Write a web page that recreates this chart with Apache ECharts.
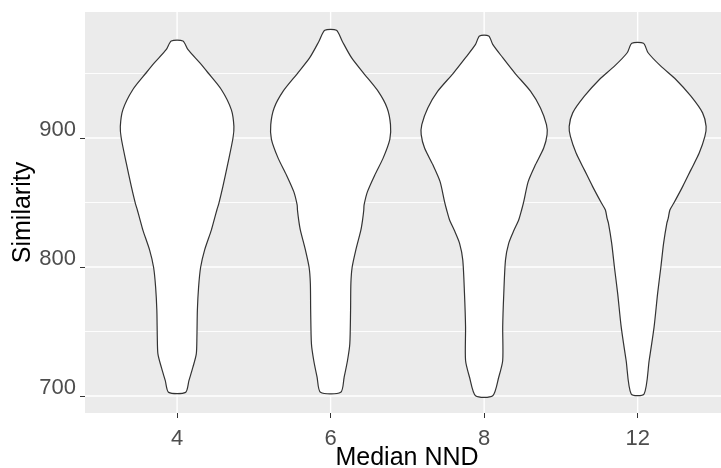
<!DOCTYPE html>
<html><head><meta charset="utf-8">
<script src="https://cdn.jsdelivr.net/npm/echarts@6/dist/echarts.min.js"></script>
<style>html,body{margin:0;padding:0;background:#fff}#c{width:721px;height:468px}</style>
</head><body><div id="c"></div>
<script>
// ---- data ----
const categories = ['4', '6', '8', '12'];
const catPositions = [1, 2, 3, 4];
const yTicks = [700, 800, 900];
const yMinorGrid = [750, 850, 950];

// violin outlines: similarity value and half width (in category units)
const sim4  = [975.2,968.7,958.4,950.6,937.6,922.0,909.0,900.0,880.5,862.3,849.4,844.2,837.7,828.6,813.1,799.6,784.5,766.4,745.6,732.7,722.3,711.9,702.8];
const half4 = [0.038,0.070,0.147,0.201,0.288,0.353,0.370,0.364,0.331,0.298,0.272,0.259,0.244,0.223,0.179,0.153,0.140,0.132,0.129,0.125,0.103,0.077,0.055];

const sim6  = [983.5,975.2,962.3,949.8,936.3,923.3,910.4,899.2,884.4,871.4,858.4,848.1,844.2,836.4,828.6,813.1,799.6,787.2,766.4,740.5,727.5,714.5,702.8];
const half6 = [0.038,0.075,0.136,0.218,0.309,0.368,0.390,0.386,0.342,0.288,0.240,0.218,0.216,0.208,0.197,0.164,0.140,0.132,0.130,0.125,0.110,0.088,0.066];

const sim8  = [979.1,972.6,962.3,949.8,936.3,923.3,910.4,902.6,892.2,879.2,866.2,850.7,844.2,836.4,828.6,818.3,805.3,779.4,753.4,727.5,714.5,700.2];
const half8 = [0.030,0.056,0.121,0.204,0.302,0.367,0.406,0.410,0.388,0.334,0.287,0.258,0.244,0.225,0.195,0.160,0.139,0.128,0.121,0.121,0.095,0.056];

const sim12  = [973.4,966.1,955.7,945.4,932.4,919.5,909.0,901.2,888.3,875.3,862.3,849.4,844.2,837.7,833.9,818.3,799.6,779.4,753.4,727.5,701.6];
const half12 = [0.038,0.068,0.151,0.249,0.347,0.423,0.446,0.438,0.401,0.347,0.293,0.235,0.210,0.199,0.190,0.169,0.151,0.130,0.107,0.075,0.042];

const violinSims = [sim4, sim6, sim8, sim12];
const violinHalves = [half4, half6, half8, half12];

// ---- chart ----
const FONT = '"Liberation Sans", Arial, Helvetica, sans-serif';
const chart = echarts.init(document.getElementById('c'), null, {renderer: 'canvas'});

const gridData = [];
yTicks.forEach(v => gridData.push(['h', v, 1.4]));
yMinorGrid.forEach(v => gridData.push(['h', v, 0.9]));
catPositions.forEach(v => gridData.push(['v', v, 1.4]));

chart.setOption({
  animation: false,
  backgroundColor: '#ffffff',
  grid: {left: 85, right: 0, top: 12, bottom: 55, show: true, backgroundColor: '#EBEBEB', borderWidth: 0,
         containLabel: false, outerBoundsMode: 'none'},
  xAxis: {
    type: 'value', min: 0.4, max: 4.543,
    axisLine: {show: false}, splitLine: {show: false},
    axisTick: {show: true, length: 5, customValues: catPositions, lineStyle: {color: '#333333', width: 1}},
    axisLabel: {customValues: catPositions, formatter: v => categories[Math.round(v) - 1],
      fontSize: 22, lineHeight: 20, color: '#4d4d4d', margin: 16, fontFamily: FONT},
    name: 'Median NND', nameLocation: 'middle', nameGap: 33, nameMoveOverlap: false,
    nameTextStyle: {fontSize: 25, color: '#000', fontFamily: FONT, padding: [0, 0, 0, 8]}
  },
  yAxis: {
    type: 'value', min: 686.8, max: 997.7,
    axisLine: {show: false}, splitLine: {show: false},
    axisTick: {show: true, length: 5, customValues: yTicks, lineStyle: {color: '#333333', width: 1}},
    axisLabel: {customValues: yTicks, fontSize: 22, lineHeight: 17, color: '#4d4d4d', margin: 9, fontFamily: FONT, verticalAlign: 'bottom'},
    name: 'Similarity', nameLocation: 'middle', nameGap: 49, nameMoveOverlap: false,
    nameTextStyle: {fontSize: 25, color: '#000', fontFamily: FONT}
  },
  series: [
    {
      type: 'custom', z: 1, silent: true,
      data: gridData,
      encode: {x: 1, y: 1},
      renderItem: function (params, api) {
        const cs = params.coordSys;
        const kind = gridData[params.dataIndex][0];
        const val = gridData[params.dataIndex][1];
        const w = gridData[params.dataIndex][2];
        let shape;
        if (kind === 'h') {
          const p = api.coord([1, val]);
          shape = {x1: cs.x, y1: p[1], x2: cs.x + cs.width, y2: p[1]};
        } else {
          const p = api.coord([val, 800]);
          shape = {x1: p[0], y1: cs.y, x2: p[0], y2: cs.y + cs.height};
        }
        return {type: 'line', shape: shape, style: {stroke: '#ffffff', lineWidth: w}};
      }
    },
    {
      type: 'custom', z: 2, silent: true,
      data: catPositions.map(p => [p, 800]),
      encode: {x: 0, y: 1},
      renderItem: function (params, api) {
        const i = params.dataIndex;
        const pos = catPositions[i];
        const sims = violinSims[i], halves = violinHalves[i];
        const pts = [];
        for (let k = 0; k < sims.length; k++) pts.push(api.coord([pos + halves[k], sims[k]]));
        for (let k = sims.length - 1; k >= 0; k--) pts.push(api.coord([pos - halves[k], sims[k]]));
        return {type: 'polygon', shape: {points: pts, smooth: 0.25},
          style: {fill: '#ffffff', stroke: '#333333', lineWidth: 1.2}};
      }
    }
  ]
});
</script></body></html>
